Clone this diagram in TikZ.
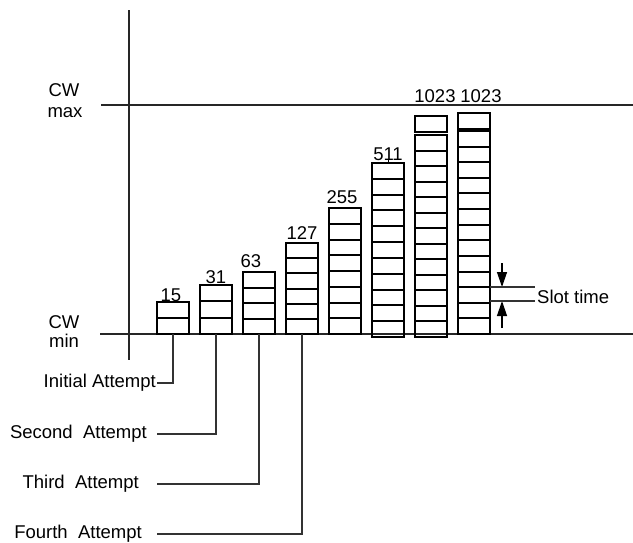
\documentclass[tikz,border=0pt]{standalone}
\usepackage{fontspec}
\setmainfont{Liberation Sans}
\usetikzlibrary{arrows.meta,calc}
\newcommand\mkcol[5]{%
  \node[col, minimum height={(#4-#3)*1pt}] (#1) at ({#2+16},#4) {};
  \pgfmathtruncatemacro\mkn{#5-1}%
  \foreach \i in {1,...,\mkn}{%
    \pgfmathtruncatemacro\mky{round(#3+\i*(#4-#3)/#5)}%
    \coordinate (mktmp) at (0,\mky);
    \draw[cell] (#1.west |- mktmp) -- (#1.east |- mktmp);
  }%
}
\begin{document}
\begin{tikzpicture}[x=1pt,y=-1pt,
  col/.style={draw=black, line width=1.9pt, minimum width=32pt, inner sep=0pt, outer sep=0pt, anchor=south},
  topbox/.style={draw=black, line width=1.9pt, minimum width=32pt, minimum height=16pt, inner sep=0pt, outer sep=0pt},
  cell/.style={line width=1.8pt},
  axis/.style={line width=1.2pt, draw=black!85},
  conn/.style={line width=1.2pt, draw=black!80},
  lab/.style={inner sep=0pt, font=\fontsize{18.5}{21}\selectfont},
  att/.style={inner sep=1pt, font=\fontsize{18.5}{21}\selectfont},
  arr/.style={line width=1.3pt, -{Triangle[length=15pt,width=10pt]}}]
\useasboundingbox (0,0) rectangle (633,542);

% axes
\coordinate (vtop) at (129,10);
\coordinate (vbot) at (129,360);
\draw[axis] (vtop) -- (vbot);
\coordinate (maxl) at (101,105);
\coordinate (maxr) at (633,105);
\draw[axis] (maxl) -- (maxr);
\coordinate (minl) at (100,334);
\coordinate (minr) at (633,334);
\draw[axis] (minl) -- (minr);

\node[lab] (cwmax) at (64,90) {CW};
\node[lab] (maxt) at (65,113) {max};
\node[lab] (cwmin) at (64,322) {CW};
\node[lab] (mint) at (64,341) {min};

% columns
\mkcol{c1}{157}{302}{334}{2}
\mkcol{c2}{200}{285}{334}{3}
\mkcol{c3}{243}{272}{334}{4}
\mkcol{c4}{286}{243}{334}{6}
\mkcol{c5}{329}{208}{334}{8}
\mkcol{c6}{372}{163}{337}{11}
\mkcol{c7}{415}{135}{337}{13}
\mkcol{c8}{458}{131}{334}{13}
\node[topbox] (t7) at (431,124) {};
\node[topbox] (t8) at (474,121) {};
\draw[line width=0.8pt] (t8.south) -- (c8.north);

% value labels
\node[lab, anchor=base] (n1) at (171,301) {15};
\node[lab, anchor=base] (n2) at (216,283) {31};
\node[lab, anchor=base] (n3) at (251,267) {63};
\node[lab, anchor=base] (n4) at (302,239) {127};
\node[lab, anchor=base] (n5) at (342,203) {255};
\node[lab, anchor=base] (n6) at (388,160) {511};
\draw[line width=0.8pt] (c6.north) -- (n6.south);
\node[lab, anchor=base] (n7) at (435,102) {1023};
\node[lab, anchor=base] (n8) at (481,102) {1023};

% slot time
\node[lab, anchor=base west] (slot) at (537,303) {Slot time};
\coordinate (sa) at (502,263);
\coordinate (sb) at (502,287);
\coordinate (sc) at (502,328);
\coordinate (sd) at (502,301);
\draw[arr] (sa) -- (sb);
\draw[arr] (sc) -- (sd);
\draw[conn] (c8.east |- sb) -- ([xshift=-2pt]slot.west |- sb);
\draw[conn] (c8.east |- sd) -- ([xshift=-2pt]slot.west |- sd);

% attempts
\node[att, anchor=east] (l1) at (157,383) {Initial Attempt};
\node[att, anchor=east] (l2) at (148,434) {Second~~Attempt};
\node[att, anchor=east] (l3) at (140,484) {Third~~Attempt};
\node[att, anchor=east] (l4) at (143,534) {Fourth~~Attempt};
\draw[conn] (l1.east) -| (c1.south);
\draw[conn] ([xshift=9pt]l2.east) -| (c2.south);
\draw[conn] ([xshift=17pt]l3.east) -| (c3.south);
\draw[conn] ([xshift=14pt]l4.east) -| (c4.south);
\end{tikzpicture}
\end{document}
